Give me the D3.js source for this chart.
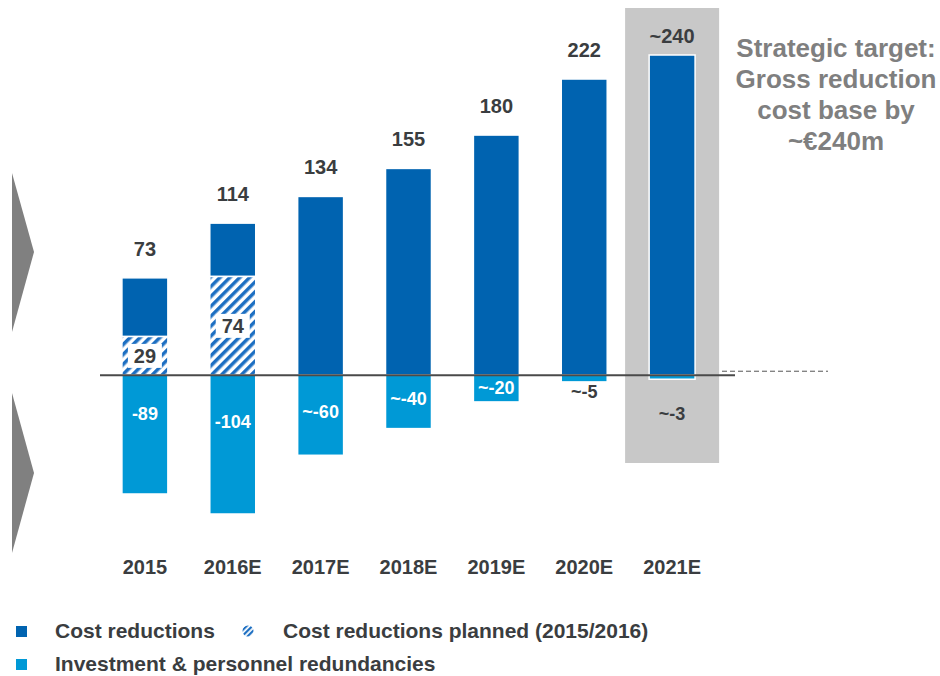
<!DOCTYPE html>
<html>
<head>
<meta charset="utf-8">
<script src="https://cdn.jsdelivr.net/npm/d3@7"></script>
<style>
  body { margin: 0; background: #fff; }
  svg text { font-family: "Liberation Sans", Arial, sans-serif; font-weight: bold; }
</style>
</head>
<body>
<div id="chart"></div>
<script>
const years = ["2015", "2016E", "2017E", "2018E", "2019E", "2020E", "2021E"];
const costReductions = [73, 114, 134, 155, 180, 222, 240];
const plannedReductions = [29, 74, 0, 0, 0, 0, 0];
const investments = [-89, -104, -60, -40, -20, -5, -3];
const topLabels = ["73", "114", "134", "155", "180", "222", "~240"];
const bottomLabels = ["-89", "-104", "~-60", "~-40", "~-20", "~-5", "~-3"];
const highlightYear = "2021E";
const targetText = ["Strategic target:", "Gross reduction", "cost base by", "~€240m"];

const width = 940;
const height = 676;
const darkBlue = "#0063b0";
const lightBlue = "#0099d6";
const textColor = "#3a3d40";

const svg = d3.select("#chart")
    .append("svg")
    .attr("width", width)
    .attr("height", height);

const defs = svg.append("defs");
const hatch = defs.append("pattern")
    .attr("id", "hatch")
    .attr("patternUnits", "userSpaceOnUse")
    .attr("width", 7)
    .attr("height", 7)
    .attr("patternTransform", "rotate(45)");
hatch.append("rect").attr("width", 7).attr("height", 7).attr("fill", "#fff");
hatch.append("rect").attr("width", 3.5).attr("height", 7).attr("fill", "#1d6fc2");

const hatchSmall = defs.append("pattern")
    .attr("id", "hatchSmall")
    .attr("patternUnits", "userSpaceOnUse")
    .attr("width", 4)
    .attr("height", 4)
    .attr("patternTransform", "rotate(45)");
hatchSmall.append("rect").attr("width", 4).attr("height", 4).attr("fill", "#fff");
hatchSmall.append("rect").attr("width", 2.2).attr("height", 4).attr("fill", "#1d6fc2");

const x = d3.scaleBand()
    .domain(years)
    .range([80, 737])
    .padding(0.477);

const y = d3.scaleLinear()
    .domain([-104, 240])
    .range([514, 55]);

const zero = y(0);
const bw = x.bandwidth();

// left arrows
svg.append("polygon")
    .attr("points", "12,173 34,252 12,332")
    .attr("fill", "#808080");
svg.append("polygon")
    .attr("points", "12,393 34,473 12,553")
    .attr("fill", "#808080");

// highlight box for target year
const hx = x(highlightYear) + bw / 2;
svg.append("rect")
    .attr("x", hx - 47)
    .attr("y", 8)
    .attr("width", 94)
    .attr("height", 455)
    .attr("fill", "#c8c8c8");

const rows = years.map((yr, i) => ({
    year: yr,
    total: costReductions[i],
    planned: plannedReductions[i],
    inv: investments[i],
    top: topLabels[i],
    bottom: bottomLabels[i]
}));

// positive bars: solid part
svg.selectAll(".cost")
    .data(rows)
    .enter().append("rect")
    .attr("class", "cost")
    .attr("x", d => x(d.year))
    .attr("y", d => y(d.total))
    .attr("width", bw)
    .attr("height", d => y(d.planned) - y(d.total))
    .attr("fill", darkBlue)
    .attr("stroke", "#fff")
    .attr("stroke-width", 1.5);

// hatched planned part
svg.selectAll(".planned")
    .data(rows.filter(d => d.planned > 0))
    .enter().append("rect")
    .attr("class", "planned")
    .attr("x", d => x(d.year))
    .attr("y", d => y(d.planned))
    .attr("width", bw)
    .attr("height", d => zero - y(d.planned))
    .attr("fill", "url(#hatch)")
    .attr("stroke", "#fff")
    .attr("stroke-width", 1.5);

// negative bars
svg.selectAll(".inv")
    .data(rows)
    .enter().append("rect")
    .attr("class", "inv")
    .attr("x", d => x(d.year))
    .attr("y", zero)
    .attr("width", bw)
    .attr("height", d => y(d.inv) - zero)
    .attr("fill", lightBlue)
    .attr("stroke", "#fff")
    .attr("stroke-width", 1.5);

// zero line + dashed extension
svg.append("line")
    .attr("x1", 100).attr("x2", 735)
    .attr("y1", zero).attr("y2", zero)
    .attr("stroke", "#4a4a4a")
    .attr("stroke-width", 2.2);
svg.append("line")
    .attr("x1", 722).attr("x2", 828)
    .attr("y1", zero - 4).attr("y2", zero - 4)
    .attr("stroke", "#555")
    .attr("stroke-width", 1)
    .attr("stroke-dasharray", "5,3");

// labels above bars
svg.selectAll(".topLabel")
    .data(rows)
    .enter().append("text")
    .attr("class", "topLabel")
    .attr("x", d => x(d.year) + bw / 2)
    .attr("y", d => Math.max(y(d.total) - 22, 43))
    .attr("text-anchor", "middle")
    .attr("font-size", 20)
    .attr("fill", textColor)
    .text(d => d.top);

// boxed labels for planned part
const boxed = svg.selectAll(".plannedLabel")
    .data(rows.filter(d => d.planned > 0))
    .enter().append("g")
    .attr("transform", d => `translate(${x(d.year) + bw / 2}, ${(y(d.planned) + zero) / 2})`);
boxed.append("rect")
    .attr("x", -17).attr("y", -12)
    .attr("width", 34).attr("height", 24)
    .attr("fill", "#fff");
boxed.append("text")
    .attr("text-anchor", "middle")
    .attr("y", 7)
    .attr("font-size", 20)
    .attr("fill", textColor)
    .text(d => d.planned);

// labels for negative bars
svg.selectAll(".bottomLabel")
    .data(rows)
    .enter().append("text")
    .attr("class", "bottomLabel")
    .attr("x", d => x(d.year) + bw / 2)
    .attr("y", d => {
        const h = y(d.inv) - zero;
        if (h < 15) return d.year === highlightYear ? zero + 45 : y(d.inv) + 16;
        return zero + (h > 100 ? 0.38 * h : Math.max(h / 2 + 3, 19));
    })
    .attr("text-anchor", "middle")
    .attr("font-size", 18)
    .attr("fill", d => (y(d.inv) - zero < 15 ? textColor : "#fff"))
    .text(d => d.bottom);

// x axis labels
svg.selectAll(".yearLabel")
    .data(years)
    .enter().append("text")
    .attr("class", "yearLabel")
    .attr("x", d => x(d) + bw / 2)
    .attr("y", 574)
    .attr("text-anchor", "middle")
    .attr("font-size", 20)
    .attr("fill", textColor)
    .text(d => d);

// strategic target note
svg.append("text")
    .attr("x", 836)
    .attr("y", 57)
    .attr("text-anchor", "middle")
    .attr("font-size", 26)
    .attr("fill", "#7f7f7f")
    .selectAll("tspan")
    .data(targetText)
    .enter().append("tspan")
    .attr("x", 836)
    .attr("dy", (d, i) => i === 0 ? 0 : 31)
    .text(d => d);

// legend
const legend = svg.append("g");
legend.append("rect").attr("x", 16).attr("y", 626).attr("width", 11).attr("height", 11).attr("fill", darkBlue);
legend.append("text").attr("x", 55).attr("y", 638).attr("font-size", 21).attr("fill", textColor).text("Cost reductions");
legend.append("circle").attr("cx", 248).attr("cy", 631).attr("r", 5.5).attr("fill", "url(#hatchSmall)");
legend.append("text").attr("x", 283).attr("y", 638).attr("font-size", 21).attr("fill", textColor).text("Cost reductions planned (2015/2016)");
legend.append("rect").attr("x", 16).attr("y", 659).attr("width", 11).attr("height", 11).attr("fill", lightBlue);
legend.append("text").attr("x", 55).attr("y", 671).attr("font-size", 21).attr("fill", textColor).text("Investment & personnel redundancies");
</script>
</body>
</html>
